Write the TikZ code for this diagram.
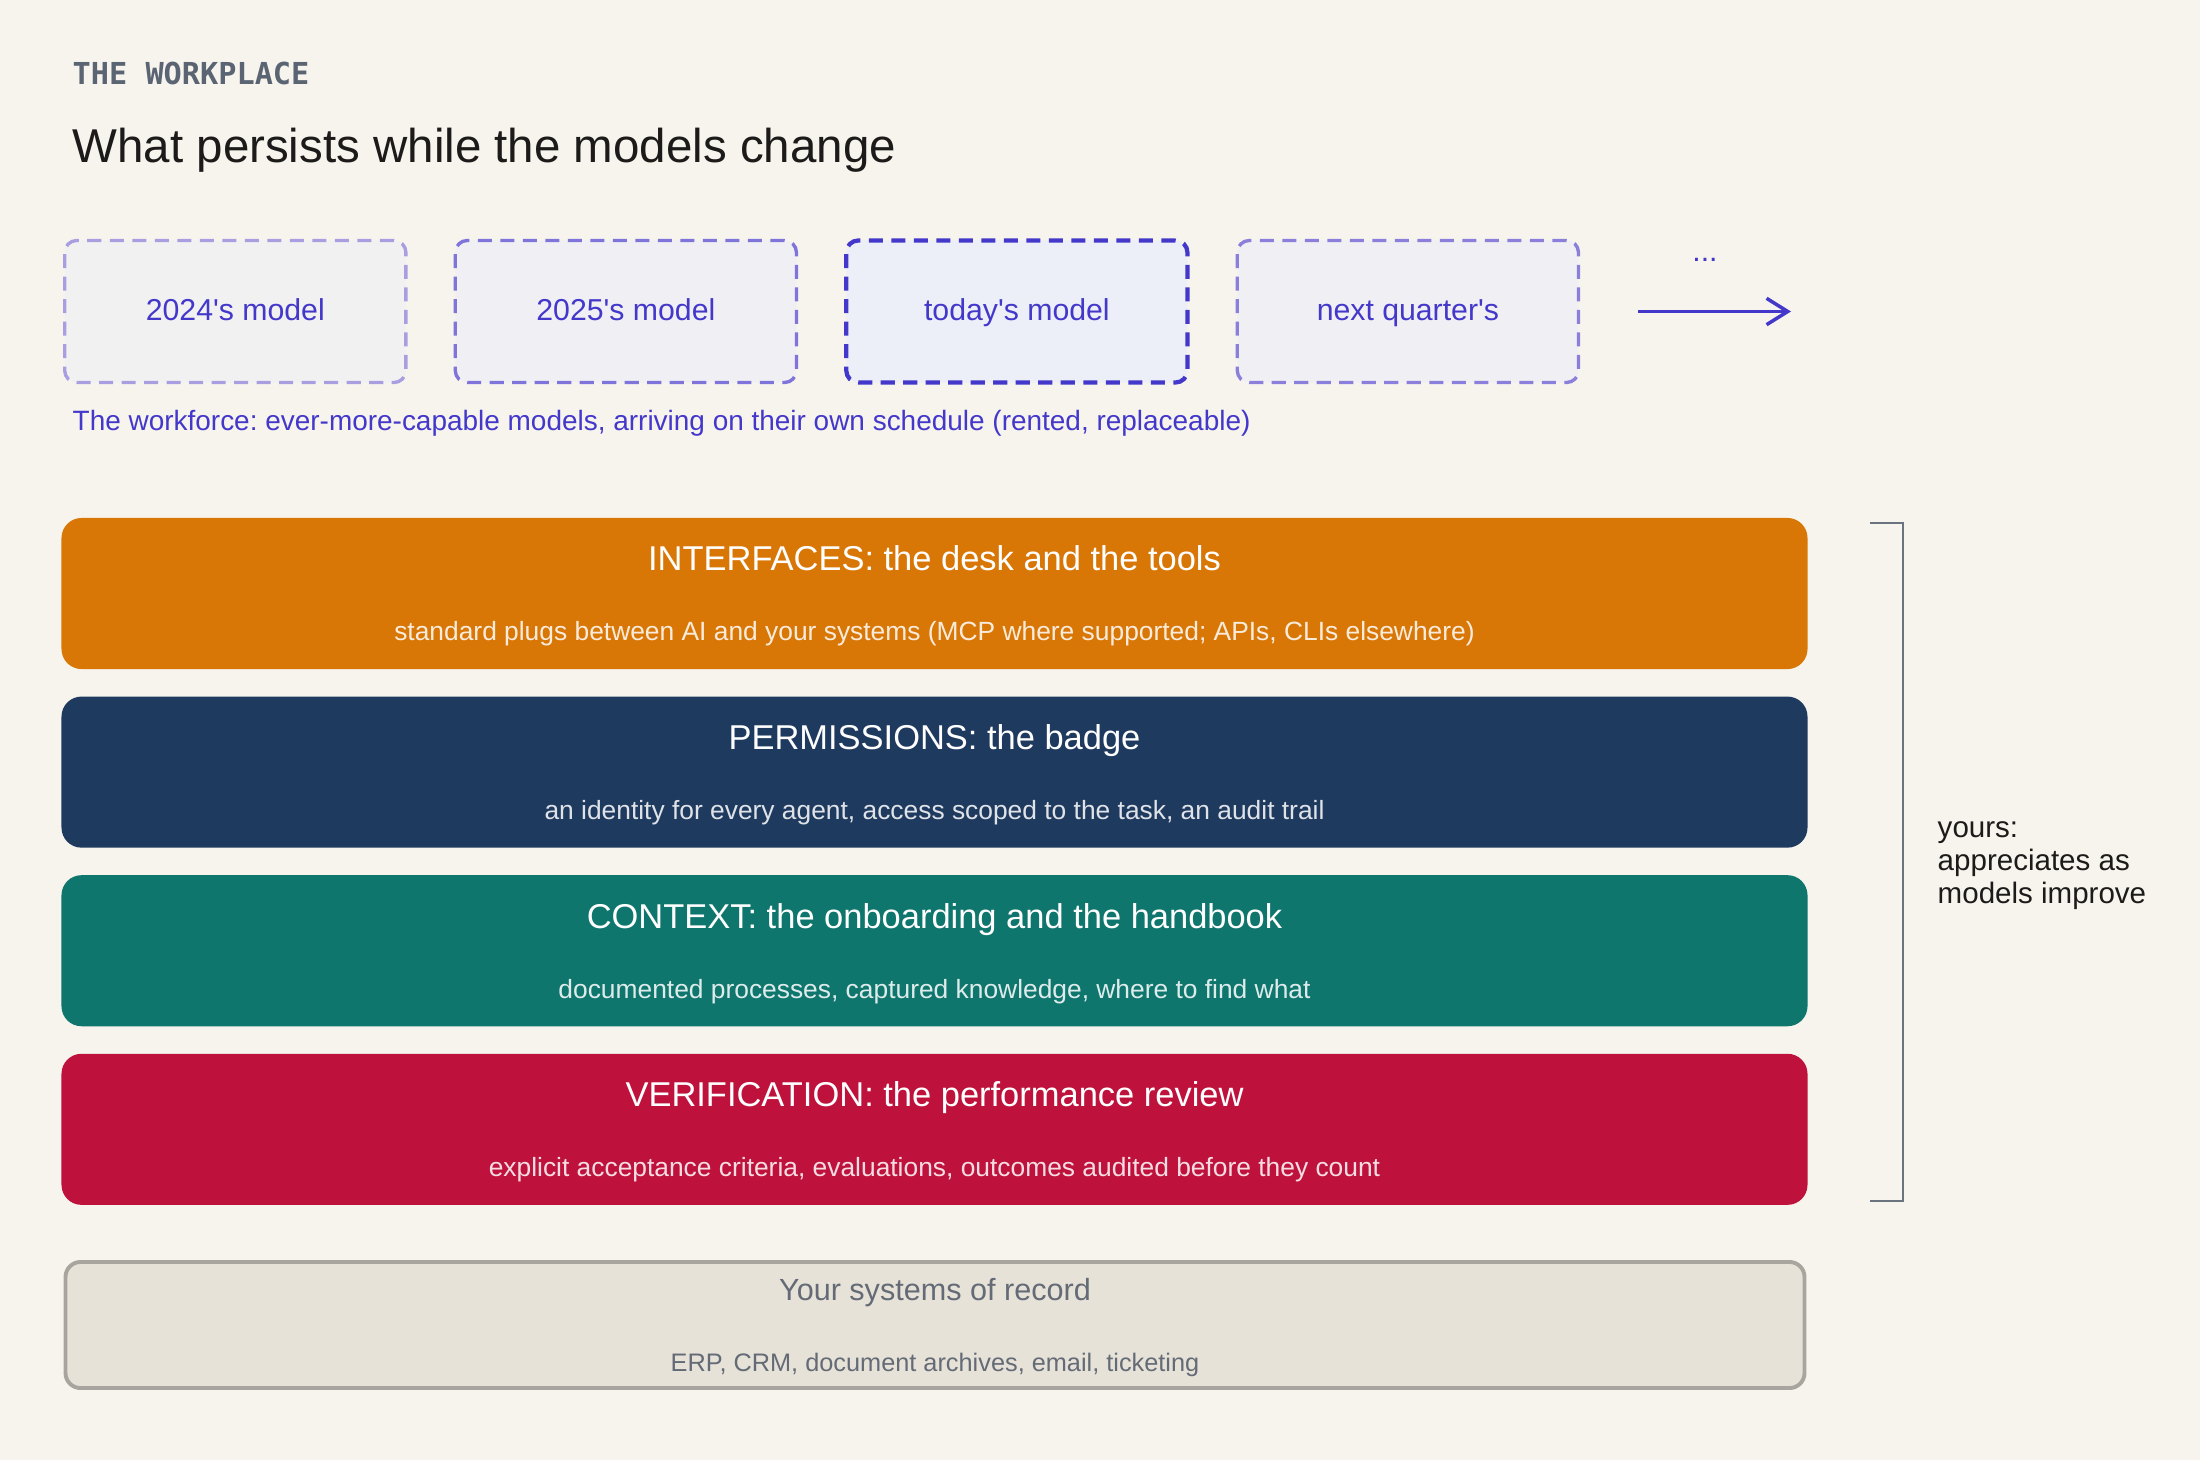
\documentclass[tikz,border=0pt]{standalone}
\usepackage{fontspec}
\setmainfont{Liberation Sans}
\newfontfamily\kickerfont{DejaVu Sans Mono}
\usetikzlibrary{calc,positioning,arrows.meta}
\frenchspacing

\definecolor{paper}{HTML}{F7F4EE}
\definecolor{ink}{HTML}{4338CA}
\definecolor{slate}{HTML}{5B6472}
\definecolor{nearblack}{HTML}{1C1B1A}
\definecolor{m24line}{HTML}{A99FE0}
\definecolor{m24fill}{HTML}{F2F1F1}
\definecolor{m25line}{HTML}{7F74D9}
\definecolor{m25fill}{HTML}{F0EFF4}
\definecolor{nextline}{HTML}{8A80DB}
\definecolor{nowfill}{HTML}{EDEFF8}
\definecolor{orangeL}{HTML}{D97706}
\definecolor{navyL}{HTML}{1F3A5F}
\definecolor{tealL}{HTML}{0F766E}
\definecolor{redL}{HTML}{BE123C}
\definecolor{recfill}{HTML}{E6E2D8}
\definecolor{recline}{HTML}{A8A49E}
\definecolor{rectext}{HTML}{646B76}
\definecolor{bracketc}{HTML}{6B7280}

\tikzset{
	kicker/.style={anchor=base west, inner sep=0pt, text=slate, font=\kickerfont\bfseries\fontsize{8.6}{10}\selectfont},
	headline/.style={anchor=base west, inner sep=0pt, text=nearblack, font=\fontsize{13.5}{16}\selectfont},
	modelbox/.style={rounded corners=0.12cm, minimum width=3.41cm, minimum height=1.42cm, line width=0.95pt, dash pattern=on 4pt off 2.4pt, text=ink, text height=6.45pt, text depth=1.6pt, font=\fontsize{8.6}{10}\selectfont},
	caption/.style={anchor=base west, inner sep=0pt, text=ink, font=\fontsize{7.95}{9}\selectfont},
	layer/.style={rounded corners=0.2cm, minimum width=17.45cm, minimum height=1.51cm, inner sep=0pt, outer sep=0pt},
	layertitle/.style={anchor=base, inner sep=0pt, text=white, font=\fontsize{9.8}{12}\selectfont},
	layersub/.style={anchor=base, inner sep=0pt, text=white, text opacity=0.86, font=\fontsize{7.5}{9}\selectfont},
	bracket/.style={draw=bracketc, line width=0.8pt},
}

\begin{document}
\begin{tikzpicture}[x=0.01cm, y=-0.01cm]
	%%%%% START %%%%%
	\fill[paper] (0,0) rectangle (2200,1460);
	\useasboundingbox (0,0) rectangle (2200,1460);
	
	\node[kicker] (kick) at (72,84) {THE WORKPLACE};
	\node[headline] (head) at (72,162) {What persists while the models change};
	
	% the rented workforce
	\node[modelbox, draw=m24line, fill=m24fill] (m24) at (235.3,311.5) {2024\textquotesingle s model};
	\node[modelbox, draw=m25line, fill=m25fill, right=0.46cm of m24] (m25) {2025\textquotesingle s model};
	\node[modelbox, draw=ink, fill=nowfill, line width=1.2pt, right=0.46cm of m25] (mnow) {today\textquotesingle s model};
	\node[modelbox, draw=nextline, fill=m25fill, right=0.46cm of mnow] (mnext) {next quarter\textquotesingle s};
	\node[text=ink, inner sep=0pt, font=\fontsize{8.6}{10}\selectfont, anchor=base] (more) at (1705,261) {...};
	\coordinate (arrS) at (1638,311.5);
	\coordinate (arrE) at (1791,311.5);
	\draw[ink, line width=1pt, -{Straight Barb[length=6pt, width=7.5pt]}] (arrS) -- (arrE);
	\node[caption] (crew) at (72,430) {The workforce: ever-more-capable models, arriving on their own schedule (rented, replaceable)};
	
	% the layers you own
	\node[layer, fill=orangeL] (intf) at (934.5,593.5) {};
	\node[layertitle] (intfT) at ($(intf.north)+(0,53)$) {INTERFACES: the desk and the tools};
	\node[layersub] (intfS) at ($(intf.north)+(0,123)$) {standard plugs between AI and your systems (MCP where supported; APIs, CLIs elsewhere)};
	
	\node[layer, fill=navyL, below=0.275cm of intf] (perm) {};
	\node[layertitle] (permT) at ($(perm.north)+(0,53)$) {PERMISSIONS: the badge};
	\node[layersub] (permS) at ($(perm.north)+(0,123)$) {an identity for every agent, access scoped to the task, an audit trail};
	
	\node[layer, fill=tealL, below=0.275cm of perm] (ctx) {};
	\node[layertitle] (ctxT) at ($(ctx.north)+(0,53)$) {CONTEXT: the onboarding and the handbook};
	\node[layersub] (ctxS) at ($(ctx.north)+(0,123)$) {documented processes, captured knowledge, where to find what};
	
	\node[layer, fill=redL, below=0.275cm of ctx] (verif) {};
	\node[layertitle] (verifT) at ($(verif.north)+(0,53)$) {VERIFICATION: the performance review};
	\node[layersub] (verifS) at ($(verif.north)+(0,123)$) {explicit acceptance criteria, evaluations, outcomes audited before they count};
	
	% systems of record
	\node[rounded corners=0.15cm, draw=recline, line width=1.1pt, fill=recfill, minimum width=17.38cm, minimum height=1.26cm] (rec) at (935,1325) {};
	\node[anchor=base, inner sep=0pt, text=rectext, font=\fontsize{8.7}{10}\selectfont] (recT) at ($(rec.north)+(0,40)$) {Your systems of record};
	\node[anchor=base, inner sep=0pt, text=rectext, font=\fontsize{7.2}{9}\selectfont] (recS) at ($(rec.north)+(0,111)$) {ERP, CRM, document archives, email, ticketing};
	
	% bracket
	\coordinate (brT) at (1903,523);
	\coordinate (brB) at (1903,1201);
	\draw[bracket] ([xshift=-0.33cm]brT) -- (brT) -- (brB) -- ([xshift=-0.33cm]brB);
	\node[anchor=base west, inner sep=0pt, align=left, text=nearblack, font=\fontsize{8.4}{9.3}\selectfont] (yours) at (1937,903) {yours:\\appreciates as\\models improve};
	
	%%%%% END %%%%%
\end{tikzpicture}
\end{document}
